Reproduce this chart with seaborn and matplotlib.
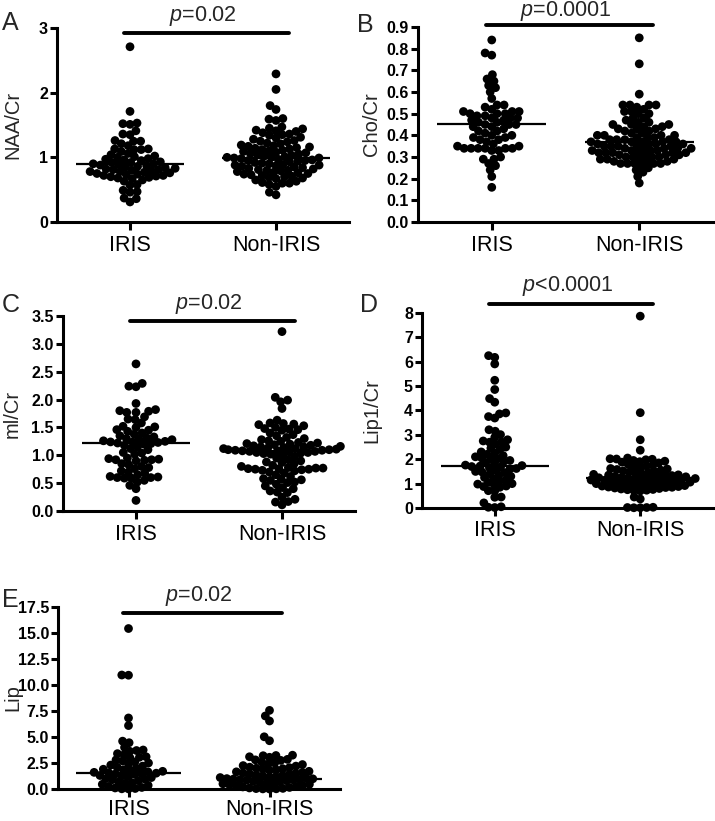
import numpy as np
import pandas as pd
import seaborn as sns
import matplotlib.pyplot as plt
import matplotlib.transforms as mtransforms
from matplotlib.collections import PathCollection

sns.set_style("ticks")
plt.rcParams['font.family'] = ['Liberation Sans', 'DejaVu Sans']
plt.rcParams['mathtext.fontset'] = 'custom'
plt.rcParams['mathtext.rm'] = 'Liberation Sans'
plt.rcParams['mathtext.it'] = 'Liberation Sans:italic'

groups = ["IRIS", "Non-IRIS"]

# Panel A: NAA/Cr
naa_iris = [2.71, 1.71, 1.53, 1.52, 1.51, 1.41, 1.36, 1.35, 1.26, 1.25, 1.25, 1.21, 1.18, 1.13, 1.13,
            1.12, 1.12, 1.09, 1.06, 1.04, 1.02, 1.01, 1.00, 0.98, 0.97, 0.96, 0.95, 0.93, 0.92, 0.92,
            0.90, 0.90, 0.89, 0.88, 0.87, 0.86, 0.85, 0.84, 0.83, 0.82, 0.81, 0.81, 0.80, 0.79, 0.78,
            0.78, 0.77, 0.76, 0.75, 0.74, 0.73, 0.72, 0.72, 0.71, 0.70, 0.69, 0.68, 0.67, 0.65, 0.63,
            0.58, 0.57, 0.49, 0.47, 0.46, 0.37, 0.36, 0.31]
naa_non = [2.29, 2.05, 1.80, 1.74, 1.60, 1.59, 1.57, 1.47, 1.45, 1.44, 1.42, 1.41, 1.40, 1.38, 1.36,
           1.35, 1.34, 1.31, 1.30, 1.28, 1.26, 1.25, 1.24, 1.22, 1.21, 1.19, 1.18, 1.17, 1.16, 1.15,
           1.14, 1.13, 1.12, 1.11, 1.10, 1.09, 1.08, 1.07, 1.06, 1.05, 1.04, 1.03, 1.02, 1.01, 1.00,
           1.00, 0.99, 0.99, 0.98, 0.97, 0.96, 0.95, 0.95, 0.94, 0.93, 0.92, 0.91, 0.90, 0.89, 0.88,
           0.88, 0.87, 0.86, 0.85, 0.84, 0.83, 0.82, 0.81, 0.80, 0.80, 0.79, 0.78, 0.77, 0.76, 0.75,
           0.74, 0.73, 0.72, 0.71, 0.70, 0.69, 0.68, 0.67, 0.65, 0.63, 0.61, 0.60, 0.60, 0.58, 0.55,
           0.46, 0.42]
naa_medians = [0.90, 0.99]

# Panel B: Cho/Cr
cho_iris = [0.84, 0.78, 0.77, 0.68, 0.66, 0.65, 0.63, 0.62, 0.60, 0.57, 0.54, 0.54, 0.53, 0.52, 0.51,
            0.51, 0.51, 0.50, 0.50, 0.50, 0.49, 0.49, 0.48, 0.48, 0.48, 0.47, 0.47, 0.46, 0.46, 0.45,
            0.45, 0.45, 0.44, 0.44, 0.43, 0.42, 0.42, 0.41, 0.40, 0.40, 0.39, 0.39, 0.38, 0.38, 0.37,
            0.36, 0.35, 0.35, 0.34, 0.34, 0.34, 0.34, 0.34, 0.34, 0.33, 0.33, 0.30, 0.29, 0.29, 0.27,
            0.26, 0.24, 0.21, 0.16]
cho_non = [0.85, 0.73, 0.59, 0.54, 0.54, 0.54, 0.54, 0.53, 0.52, 0.51, 0.51, 0.50, 0.50, 0.48, 0.48,
           0.47, 0.46, 0.46, 0.45, 0.45, 0.45, 0.44, 0.44, 0.43, 0.43, 0.43, 0.42, 0.42, 0.41, 0.41,
           0.40, 0.40, 0.40, 0.40, 0.39, 0.39, 0.39, 0.38, 0.38, 0.38, 0.38, 0.37, 0.37, 0.37, 0.37,
           0.37, 0.36, 0.36, 0.36, 0.36, 0.35, 0.35, 0.35, 0.35, 0.35, 0.34, 0.34, 0.34, 0.34, 0.34,
           0.33, 0.33, 0.33, 0.33, 0.32, 0.32, 0.32, 0.32, 0.32, 0.32, 0.31, 0.31, 0.31, 0.31, 0.30,
           0.30, 0.30, 0.30, 0.29, 0.29, 0.29, 0.29, 0.28, 0.28, 0.28, 0.27, 0.27, 0.27, 0.27, 0.27,
           0.26, 0.25, 0.24, 0.23, 0.21, 0.18]
cho_medians = [0.45, 0.37]

# Panel C: mI/Cr
mi_iris = [2.64, 2.29, 2.24, 2.23, 1.93, 1.82, 1.80, 1.79, 1.77, 1.77, 1.69, 1.65, 1.64, 1.58, 1.52,
           1.51, 1.50, 1.46, 1.45, 1.43, 1.40, 1.38, 1.35, 1.33, 1.31, 1.30, 1.29, 1.28, 1.26, 1.25,
           1.24, 1.24, 1.23, 1.22, 1.21, 1.20, 1.18, 1.15, 1.12, 1.10, 1.05, 1.04, 1.02, 0.95, 0.94,
           0.93, 0.92, 0.92, 0.91, 0.90, 0.85, 0.83, 0.80, 0.78, 0.76, 0.72, 0.70, 0.68, 0.65, 0.62,
           0.61, 0.60, 0.60, 0.59, 0.59, 0.55, 0.52, 0.46, 0.40, 0.19]
mi_non = [3.22, 2.04, 1.99, 1.96, 1.84, 1.63, 1.58, 1.57, 1.56, 1.55, 1.53, 1.50, 1.48, 1.47, 1.46,
          1.45, 1.40, 1.37, 1.35, 1.32, 1.30, 1.28, 1.26, 1.25, 1.23, 1.22, 1.21, 1.20, 1.19, 1.18,
          1.17, 1.16, 1.15, 1.15, 1.14, 1.13, 1.12, 1.12, 1.11, 1.10, 1.10, 1.09, 1.09, 1.08, 1.08,
          1.07, 1.07, 1.06, 1.05, 1.05, 1.04, 1.03, 1.02, 1.00, 0.98, 0.95, 0.92, 0.90, 0.88, 0.87,
          0.85, 0.82, 0.80, 0.78, 0.77, 0.77, 0.76, 0.76, 0.75, 0.75, 0.74, 0.73, 0.72, 0.70, 0.68,
          0.65, 0.62, 0.58, 0.57, 0.56, 0.55, 0.52, 0.51, 0.48, 0.45, 0.42, 0.40, 0.36, 0.34, 0.33,
          0.25, 0.21, 0.17, 0.16, 0.11]
mi_medians = [1.22, 1.08]

# Panel D: Lip1/Cr
lip1_iris = [6.25, 6.18, 5.91, 5.24, 4.86, 4.49, 4.34, 3.90, 3.86, 3.75, 3.69, 3.21, 3.15, 3.01, 2.90,
             2.80, 2.75, 2.71, 2.70, 2.62, 2.50, 2.45, 2.40, 2.30, 2.25, 2.20, 2.15, 2.10, 2.05, 2.02,
             2.00, 1.95, 1.90, 1.85, 1.80, 1.76, 1.74, 1.72, 1.70, 1.68, 1.65, 1.62, 1.60, 1.55, 1.50,
             1.48, 1.45, 1.40, 1.35, 1.30, 1.25, 1.20, 1.15, 1.10, 1.05, 1.00, 0.98, 0.95, 0.90, 0.88,
             0.85, 0.71, 0.70, 0.45, 0.44, 0.21, 0.05, 0.03, 0.02]
lip1_non = [7.87, 3.91, 2.80, 2.37, 2.05, 2.02, 2.01, 2.00, 1.98, 1.95, 1.92, 1.90, 1.88, 1.85, 1.80,
            1.75, 1.72, 1.70, 1.65, 1.62, 1.60, 1.58, 1.55, 1.52, 1.50, 1.48, 1.45, 1.42, 1.40, 1.38,
            1.36, 1.35, 1.33, 1.32, 1.30, 1.28, 1.27, 1.25, 1.24, 1.23, 1.22, 1.21, 1.20, 1.18,
            1.16, 1.15, 1.14, 1.12, 1.10, 1.10, 1.08, 1.06, 1.05, 1.04, 1.02, 1.00, 1.00, 0.98,
            0.96, 0.95, 0.93, 0.92, 0.90, 0.88, 0.86, 0.85, 0.84, 0.82, 0.80, 0.78, 0.76, 0.75, 0.73,
            0.72, 0.70, 0.45, 0.37, 0.03, 0.02, 0.02, 0.01, 0.01]
lip1_medians = [1.74, 1.22]

# Panel E: Lip
lip_iris = [15.43, 10.96, 10.94, 6.83, 6.10, 4.60, 4.45, 4.00, 3.75, 3.70, 3.62, 3.40, 3.30, 3.10, 3.05,
            3.00, 2.80, 2.70, 2.60, 2.50, 2.40, 2.30, 2.20, 2.10, 2.00, 1.90, 1.85, 1.80, 1.70, 1.65,
            1.60, 1.55, 1.52, 1.50, 1.45, 1.40, 1.30, 1.25, 1.20, 1.10, 1.00, 0.95, 0.90, 0.80, 0.70,
            0.60, 0.55, 0.45, 0.35, 0.25, 0.15, 0.10, 0.05, 0.02, 0.01]
lip_non = [7.56, 7.02, 6.54, 5.02, 4.64, 3.25, 3.22, 3.20, 3.10, 3.05, 2.85, 2.80, 2.75, 2.60, 2.50,
           2.40, 2.35, 2.25, 2.20, 2.10, 2.05, 2.00, 1.95, 1.90, 1.85, 1.80, 1.70, 1.65, 1.60, 1.55,
           1.50, 1.45, 1.40, 1.35, 1.30, 1.25, 1.20, 1.15, 1.10, 1.05, 1.00, 0.98, 0.95, 0.92, 0.90,
           0.88, 0.85, 0.80, 0.75, 0.70, 0.65, 0.60, 0.55, 0.50, 0.45, 0.40, 0.35, 0.30, 0.25, 0.20,
           0.15, 0.10, 0.06, 0.04, 0.02, 0.01, 0.00]
lip_medians = [1.52, 0.95]

W, H = 715, 821
fig = plt.figure(figsize=(W / 100, H / 100), dpi=100)

DOT_SIZE = 6.3    # marker diameter (pt) actually drawn (dots overlap, as in the original)


def ax_at(left, top, right, bottom):
    return fig.add_axes([left / W, 1 - bottom / H, (right - left) / W, (bottom - top) / H])


def panel(ax, iris, non, medians, ylim, yticks, fmt, ylabel, ptext, bar_y, text_y, label_x,
          pack=5.0, xpad=3):
    df = pd.DataFrame({"group": ["IRIS"] * len(iris) + ["Non-IRIS"] * len(non),
                       "value": iris + non})
    # 'pack' is the marker diameter (pt) used for the swarm layout
    sns.swarmplot(data=df, x="group", y="value", order=groups, color="black", size=pack,
                  linewidth=0, ax=ax, zorder=3, warn_thresh=1.0)
    for i, m in enumerate(medians):
        ax.hlines(m, i - 0.37, i + 0.37, color="black", lw=1.6, zorder=4)
    ax.set_xlim(-0.5, 1.5)
    ax.set_ylim(*ylim)
    ax.set_yticks(yticks)
    ax.set_yticklabels([fmt.format(t) for t in yticks], fontweight="bold", fontsize=11.5)
    ax.set_xlabel("")
    ax.set_ylabel(ylabel, fontsize=14.5)
    ax.yaxis.set_label_coords(label_x, 0.5)
    ax.tick_params(axis="x", labelsize=15.5, length=6, width=2.2, pad=xpad, colors="black")
    ax.tick_params(axis="y", length=5, width=2.2, pad=1.5, colors="black")
    for s in ["left", "bottom"]:
        ax.spines[s].set_linewidth(2.2)
        ax.spines[s].set_color("black")
    sns.despine(ax=ax)
    tr = mtransforms.blended_transform_factory(ax.transData, ax.transAxes)
    ax.plot([-0.04, 1.09], [bar_y, bar_y], color="black", lw=2.8, transform=tr, clip_on=False)
    ax.text(0.5, text_y, ptext, transform=tr, ha="center", va="bottom", fontsize=15.5)


axA = ax_at(57, 28, 349, 222)
panel(axA, naa_iris, naa_non, naa_medians, (0, 3), [0, 1, 2, 3], "{:.0f}", "NAA/Cr",
      r"$\mathit{p}$=0.02", 0.974, 1.0, -0.12, pack=4.9)
axB = ax_at(418, 27, 713, 222)
panel(axB, cho_iris, cho_non, cho_medians, (0, 0.9), list(np.round(np.arange(0, 0.91, 0.1), 1)),
      "{:.1f}", "Cho/Cr", r"$\mathit{p}$=0.0001", 1.012, 1.022, -0.125, pack=4.8)
axC = ax_at(63, 316, 355, 511)
panel(axC, mi_iris, mi_non, mi_medians, (0, 3.5), list(np.arange(0, 3.51, 0.5)), "{:.1f}",
      "ml/Cr", r"$\mathit{p}$=0.02", 0.974, 1.0, -0.14, pack=4.9)
axD = ax_at(422, 313, 713, 508)
panel(axD, lip1_iris, lip1_non, lip1_medians, (0, 8), list(range(0, 9)), "{:.0f}", "Lip1/Cr",
      r"$\mathit{p}$<0.0001", 1.046, 1.075, -0.141, pack=4.4)
axE = ax_at(58, 607, 340, 789)
panel(axE, lip_iris, lip_non, lip_medians, (0, 17.5), list(np.arange(0, 17.6, 2.5)), "{:.1f}",
      "Lip", r"$\mathit{p}$=0.02", 0.967, 0.995, -0.128, pack=4.6, xpad=1)

for letter, x, y in [("A", 2, 30), ("B", 357, 32), ("C", 2, 312), ("D", 360, 312), ("E", 2, 607)]:
    fig.text(x / W, 1 - y / H, letter, fontsize=18, ha="left", va="baseline")

# Let seaborn lay out the swarms, then freeze the positions and draw bigger dots.
fig.canvas.draw()
for ax in fig.axes:
    for c in ax.collections:
        if not isinstance(c, PathCollection):
            continue
        if "draw" in c.__dict__:
            del c.draw
        c.set_sizes([DOT_SIZE ** 2] * len(c.get_offsets()))
        c.set_clip_on(False)

fig.savefig("out.png", dpi=100)
